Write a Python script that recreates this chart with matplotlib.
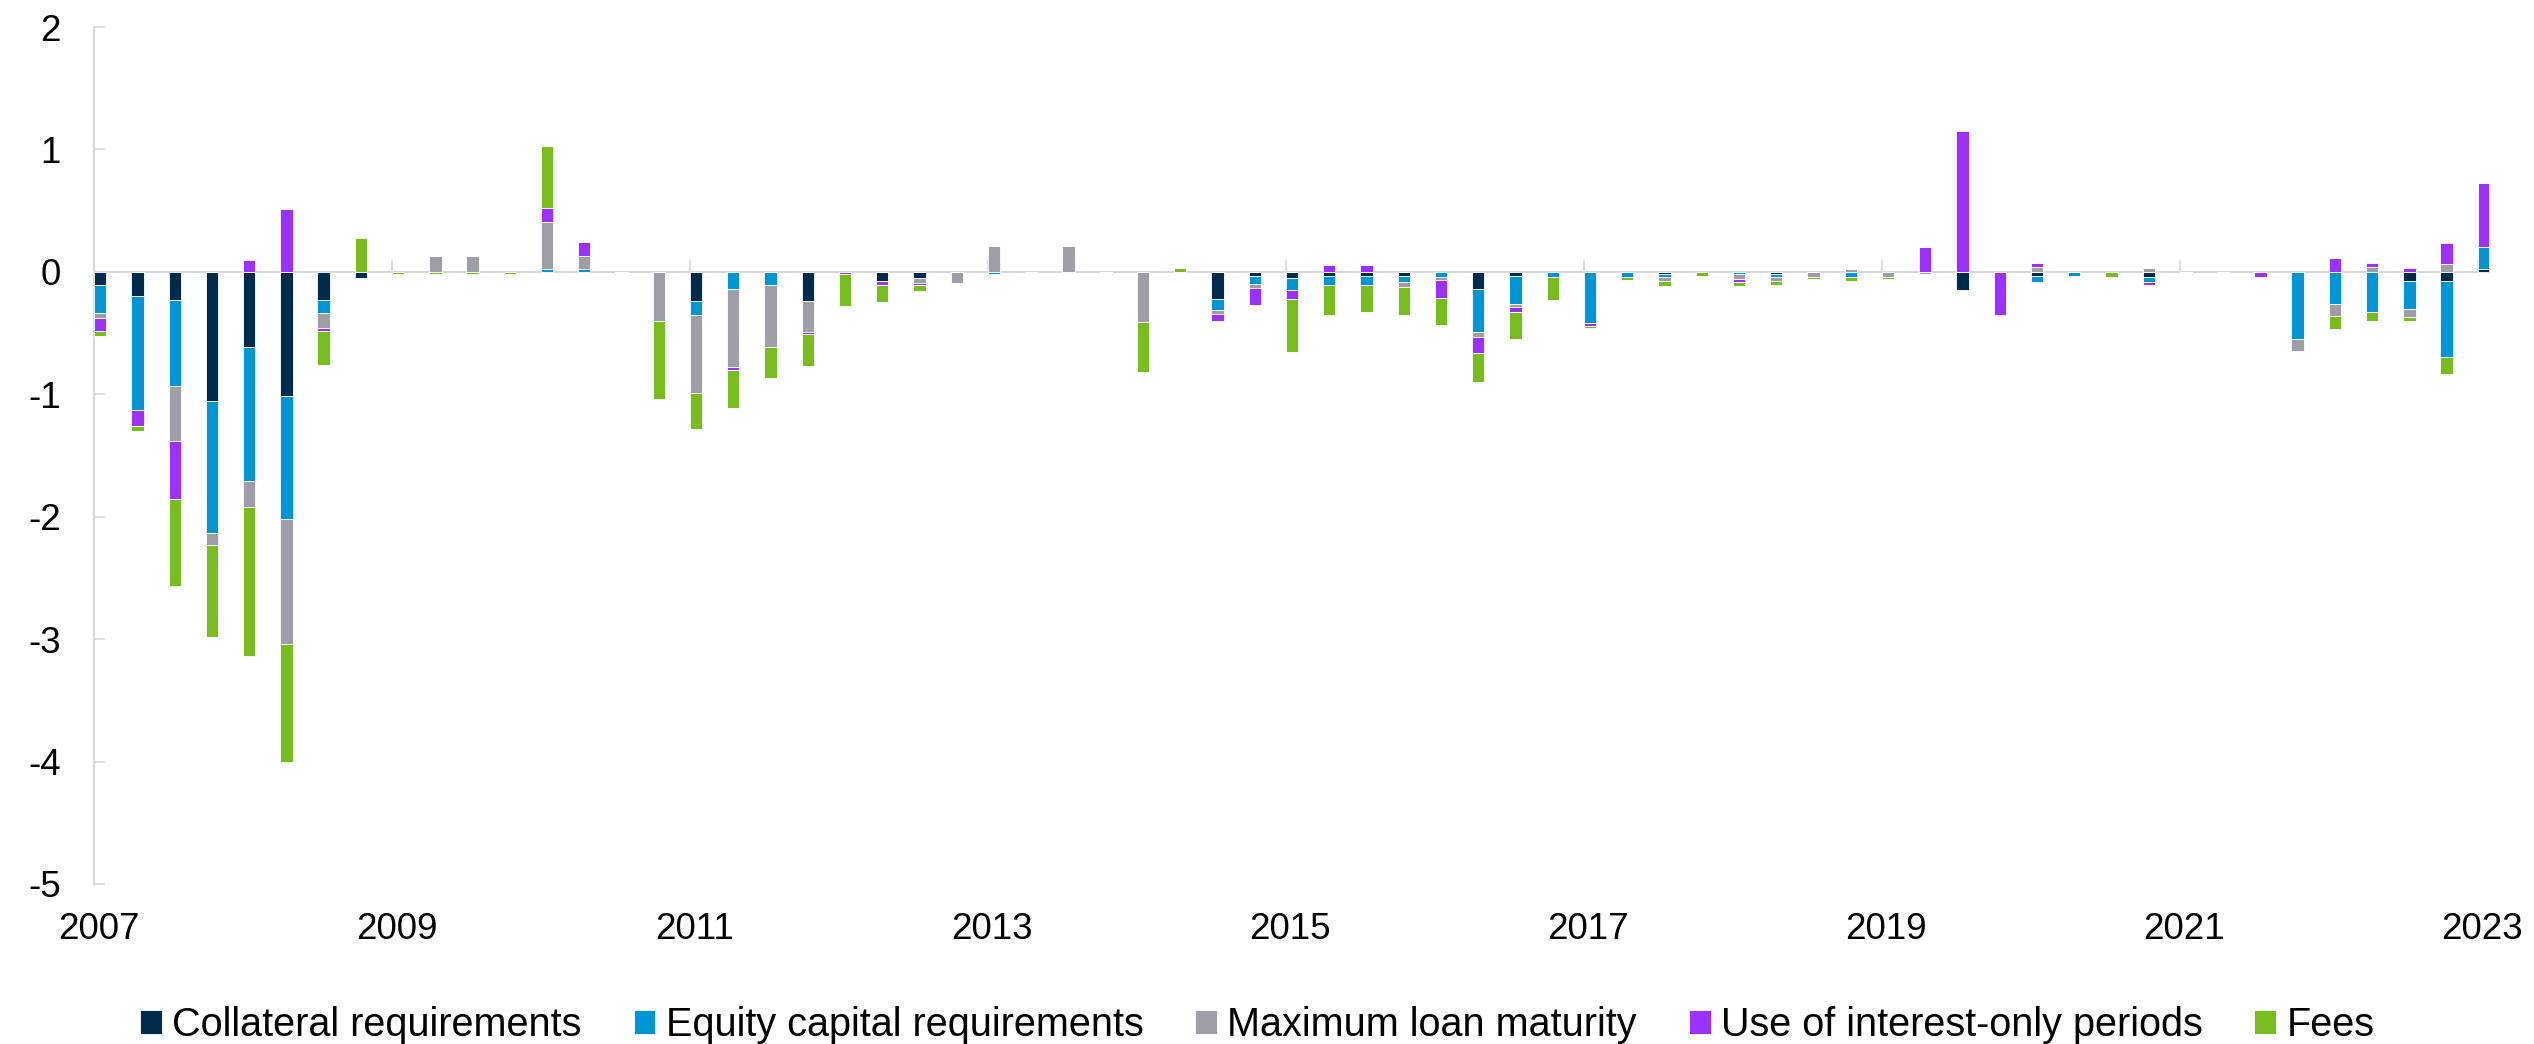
import matplotlib
matplotlib.use("Agg")
import matplotlib.pyplot as plt
import numpy as np

plt.rcParams['font.family'] = ['Liberation Sans', 'DejaVu Sans']

# quarters 2007Q1 .. 2023Q1
quarters = [f"{y}Q{q}" for y in range(2007, 2024) for q in range(1, 5)][:65]
year_labels = [str(y) for y in range(2007, 2024, 2)]

series_names = ["Collateral requirements", "Equity capital requirements",
                "Maximum loan maturity", "Use of interest-only periods", "Fees"]
colors = ["#002B4C", "#0096D6", "#9E9EA6", "#9B30FF", "#78BC20"]

collateral = [-0.11, -0.20, -0.23, -1.055, -0.61, -1.01, -0.23, -0.05, 0, 0,
              0, 0, 0, 0, 0, 0, -0.24, 0, 0, -0.24,
              0, -0.075, -0.05, 0, 0, 0, 0, 0, 0, 0,
              -0.22, -0.03, -0.05, -0.03, -0.03, -0.03, 0, -0.14, -0.03, 0,
              0, 0, -0.02, 0, 0, -0.02, 0, 0, 0, 0,
              -0.15, 0, -0.035, 0, 0, -0.04, 0, 0, 0, 0,
              0, 0, -0.075, -0.075, 0.025]
equity = [-0.23, -0.93, -0.70, -1.08, -1.10, -1.01, -0.11, 0, 0, 0,
          0, 0, 0.02, 0.02, 0, 0, -0.11, -0.14, -0.11, 0,
          0, 0, 0, 0, -0.02, 0, 0, 0, 0, 0,
          -0.09, -0.07, -0.10, -0.08, -0.08, -0.05, -0.04, -0.35, -0.235, -0.04,
          -0.42, -0.04, -0.02, 0, -0.02, -0.02, 0, -0.04, 0, 0,
          0, 0, -0.045, -0.035, 0, -0.04, 0, 0, 0, -0.55,
          -0.26, -0.33, -0.225, -0.62, 0.18]
maturity = [-0.04, 0, -0.455, -0.10, -0.21, -1.02, -0.12, 0, 0, 0.13,
            0.13, 0, 0.39, 0.11, 0, -0.40, -0.64, -0.64, -0.50, -0.25,
            0, 0, -0.04, -0.09, 0.215, 0, 0.215, 0, -0.41, 0,
            -0.035, -0.035, 0, 0, 0, -0.04, -0.03, -0.04, -0.025, 0,
            0, 0, -0.035, 0, -0.035, -0.035, -0.04, 0.025, -0.04, -0.02,
            0, 0, 0.04, 0, 0, 0.03, 0, 0, 0, -0.10,
            -0.10, 0.04, -0.07, 0.065, 0]
interest_only = [-0.10, -0.13, -0.47, 0, 0.10, 0.51, -0.02, 0, 0, 0,
                 0, 0, 0.11, 0.11, 0, 0, 0, -0.02, 0, -0.015,
                 -0.02, -0.03, -0.015, 0, 0, 0, 0, 0, 0, 0,
                 -0.055, -0.135, -0.075, 0.055, 0.055, 0, -0.14, -0.13, -0.04, 0,
                 -0.02, 0, 0, 0, -0.03, 0, 0, 0, 0, 0.205,
                 1.15, -0.35, 0.03, 0, 0, -0.025, 0, 0, -0.04, 0,
                 0.11, 0.03, 0.03, 0.17, 0.52]
fees = [-0.04, -0.04, -0.71, -0.75, -1.22, -0.96, -0.28, 0.28, -0.02, -0.02,
        -0.02, -0.02, 0.51, 0, 0, -0.64, -0.29, -0.31, -0.26, -0.26,
        -0.26, -0.145, -0.055, 0, 0, 0, 0, 0, -0.41, 0.03,
        0, 0, -0.43, -0.24, -0.22, -0.235, -0.22, -0.24, -0.215, -0.19,
        -0.02, -0.03, -0.04, -0.035, -0.03, -0.03, -0.02, -0.035, -0.02, 0,
        0, 0, 0, 0, -0.04, 0, 0, 0, 0, 0,
        -0.11, -0.07, -0.035, -0.14, 0]

data = [collateral, equity, maturity, interest_only, fees]

fig = plt.figure(figsize=(25.34, 10.44), dpi=100)
ax = fig.add_axes([0.0371, 0.1533, 0.9451, 0.8208])

x = np.arange(len(quarters))
pos_bottom = np.zeros(len(x))
neg_bottom = np.zeros(len(x))
for name, vals, col in zip(series_names, data, colors):
    v = np.array(vals, dtype=float)
    bottom = np.where(v >= 0, pos_bottom, neg_bottom)
    ax.bar(x, v, width=0.33, bottom=bottom, align='edge', color=col,
           edgecolor='white', linewidth=0.6, label=name, zorder=3)
    pos_bottom += np.clip(v, 0, None)
    neg_bottom += np.clip(v, None, 0)

ax.set_xlim(0, 64.3)
ax.set_ylim(-5, 2)

grid_col = "#D9D9D9"
for s in ["top", "right"]:
    ax.spines[s].set_visible(False)
ax.spines["left"].set_color(grid_col)
ax.spines["left"].set_linewidth(1.5)
ax.spines["bottom"].set_position(("data", 0))
ax.spines["bottom"].set_color(grid_col)
ax.spines["bottom"].set_linewidth(1.5)

yt = list(range(-5, 3))
ax.set_yticks(yt)
ax.set_yticklabels([str(v) for v in yt])
ax.tick_params(axis='y', direction='in', length=8, width=1.2, color=grid_col,
               labelsize=26.5, pad=24)

ax.set_xticks(np.arange(0, 65, 8))
ax.tick_params(axis='x', direction='in', length=9, width=1.2, color=grid_col,
               labelbottom=False)

sec = ax.secondary_xaxis(0.0)
sec.set_xticks(np.arange(0, 65, 8) + 0.12)
sec.set_xticklabels(year_labels)
sec.tick_params(length=0, labelsize=26.5, pad=20)
sec.spines["bottom"].set_visible(False)

fig.legend(loc='center', bbox_to_anchor=(0.4962, 19 / 1044), ncol=5,
           frameon=False, fontsize=28.5, handlelength=0.55, handleheight=0.55,
           handletextpad=0.26, columnspacing=1.31, borderpad=0)

fig.savefig("out.png", dpi=100)
